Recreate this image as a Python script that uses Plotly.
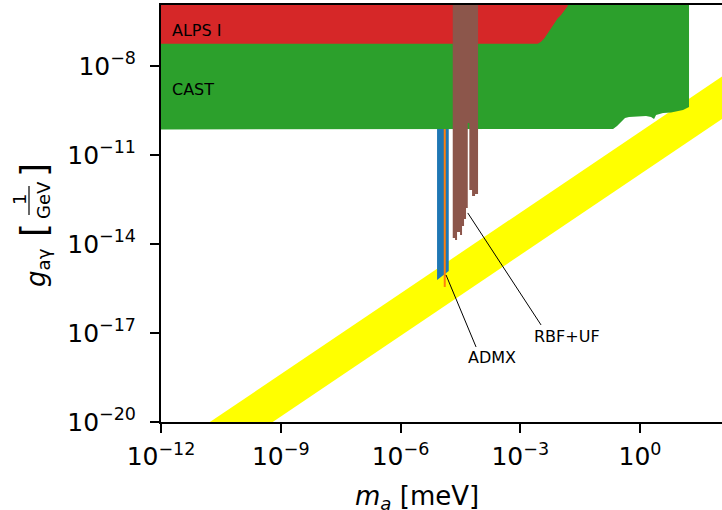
import numpy as np
import plotly.graph_objects as go

# ---- data (log10 exponents) ----
band_upper_logm = [-11.5, 2.5]
band_upper_logg = [-20.658, -7.952]
band_lower_logm = [2.5, -9.5]
band_lower_logg = [-9.380, -20.271]

admx_logm = [-5.085, -4.792, -4.792, -5.085]
admx_logg = [-10.0, -10.0, -14.909, -15.213]

admx2_logm = [-4.892, -4.892]
admx2_logg = [-10.0, -15.449]

cast_logm = [-12.5, -0.802, -0.676, -0.576, -0.476, -0.376, -0.276, -0.075, 0.150,
             0.276, 0.351, 0.401, 0.576, 0.777, 0.927, 1.077, 1.227, 1.227, -12.5]
cast_logg = [-10.14, -10.14, -10.123, -10.022, -9.871, -9.753, -9.719, -9.702, -9.685,
             -9.719, -9.786, -9.652, -9.584, -9.567, -9.517, -9.483, -9.382, -5.0, -5.0]

alps_logm = [-12.5, -2.563, -2.480, -2.397, -2.312, -2.229, -2.147, -2.062, -1.979,
             -1.911, -1.854, -1.811, -1.78, -12.5]
alps_logg = [-7.25, -7.25, -7.181, -7.066, -6.898, -6.729, -6.561, -6.392, -6.281,
             -6.170, -6.055, -5.978, -5.0, -5.0]

rbf_logm = [-4.692, -4.692, -4.634, -4.634, -4.584, -4.584, -4.509, -4.509, -4.459, -4.459,
            -4.409, -4.409, -4.359, -4.359, -4.316, -4.316, -4.276, -4.276, -4.208, -4.208,
            -4.133, -4.133, -4.058, -4.058]
rbf_logg = [-5.0, -13.797, -13.797, -13.864, -13.864, -13.595, -13.595, -13.696, -13.696, -13.393,
            -13.393, -13.157, -13.157, -12.786, -12.786, -9.921, -9.921, -12.179, -12.179, -12.382,
            -12.382, -12.314, -12.314, -5.0]

# annotation pointer lines (head, tail)
admx_ptr_logm = [-4.860, -4.108]
admx_ptr_logg = [-15.044, -17.471]
rbf_ptr_logm = [-4.316, -2.480]
rbf_ptr_logg = [-12.954, -16.729]

x_tick_exps = [-12, -9, -6, -3, 0]
y_tick_exps = [-20, -17, -14, -11, -8]

x_range_log = [-12.0, 2.053]
y_range_log = [-20.0, -5.946]

def p10(a):
    return 10 ** np.array(a, dtype=float)

def tick_text(exps):
    return ["10<sup>%s</sup>" % (str(e).replace("-", "\u2212")) for e in exps]

band_m = np.concatenate([p10(band_upper_logm), p10(band_lower_logm)])
band_g = np.concatenate([p10(band_upper_logg), p10(band_lower_logg)])

fig = go.Figure()

def poly(mx, gy, color):
    fig.add_trace(go.Scatter(x=mx, y=gy, mode="lines", fill="toself", fillcolor=color,
                             line=dict(width=0, color=color), hoverinfo="skip", showlegend=False))

poly(band_m, band_g, "#ffff00")
poly(p10(admx_logm), p10(admx_logg), "#1f77b4")
fig.add_trace(go.Scatter(x=p10(admx2_logm), y=p10(admx2_logg), mode="lines",
                         line=dict(width=2, color="#ff7f0e"), hoverinfo="skip", showlegend=False))
poly(p10(cast_logm), p10(cast_logg), "#2ca02c")
poly(p10(alps_logm), p10(alps_logg), "#d62728")
poly(p10(rbf_logm), p10(rbf_logg), "#8c564b")

for lx, ly in [(admx_ptr_logm, admx_ptr_logg), (rbf_ptr_logm, rbf_ptr_logg)]:
    fig.add_trace(go.Scatter(x=p10(lx), y=p10(ly), mode="lines",
                             line=dict(width=1, color="black"), hoverinfo="skip", showlegend=False))

# pixel -> paper helpers (plot area: x 161..722, y 5..422)
L, R, T, B = 161, 722, 5, 422
def px(x):
    return (x - L) / (R - L)
def py(y):
    return (B - y) / (B - T)

FONT = "DejaVu Sans"
ann = []
def label(text, x, y, size, xanchor="center", angle=0):
    ann.append(dict(text=text, x=px(x), y=py(y), xref="paper", yref="paper", showarrow=False,
                    xanchor=xanchor, yanchor="middle", textangle=angle,
                    font=dict(family=FONT, size=size, color="black")))

label("ALPS I", 169.5, 30.5, 16, xanchor="left")
label("CAST", 169.5, 90, 16, xanchor="left")
label("ADMX", 491.7, 357.5, 16)
label("RBF+UF", 567, 336, 16)

# axis titles
label("<i>m</i><sub><i>a</i></sub> [meV]", 417, 497, 26)
label("<i>g</i><sub>aγ</sub>", 37, 268, 26, angle=-90)
label("[", 33, 230, 36, angle=-90)
label("1", 19, 200, 18, angle=-90)
label("GeV", 43, 200, 18, angle=-90)
label("]", 33, 170, 36, angle=-90)

shapes = [dict(type="line", xref="paper", yref="paper", x0=px(29), x1=px(29), y0=py(186), y1=py(215),
               line=dict(color="black", width=1.2))]

axis_common = dict(type="log", showgrid=False, zeroline=False, showline=True, linecolor="black",
                   linewidth=2, ticks="outside", ticklen=9, tickwidth=1.6, tickcolor="black",
                   tickfont=dict(family=FONT, size=25, color="black"))

fig.update_layout(
    width=722, height=510,
    margin=dict(l=L, r=722 - R, t=T, b=510 - B),
    paper_bgcolor="white", plot_bgcolor="white",
    xaxis=dict(range=x_range_log, mirror=True, tickmode="array",
               tickvals=list(p10(x_tick_exps)), ticktext=tick_text(x_tick_exps),
               ticklabelstandoff=2, **axis_common),
    yaxis=dict(range=y_range_log, mirror=False, tickmode="array",
               tickvals=list(p10(y_tick_exps)), ticktext=tick_text(y_tick_exps),
               ticklabelstandoff=9, **axis_common),
    annotations=ann, shapes=shapes, showlegend=False,
    font=dict(family=FONT),
)

fig.write_html("out.html")
